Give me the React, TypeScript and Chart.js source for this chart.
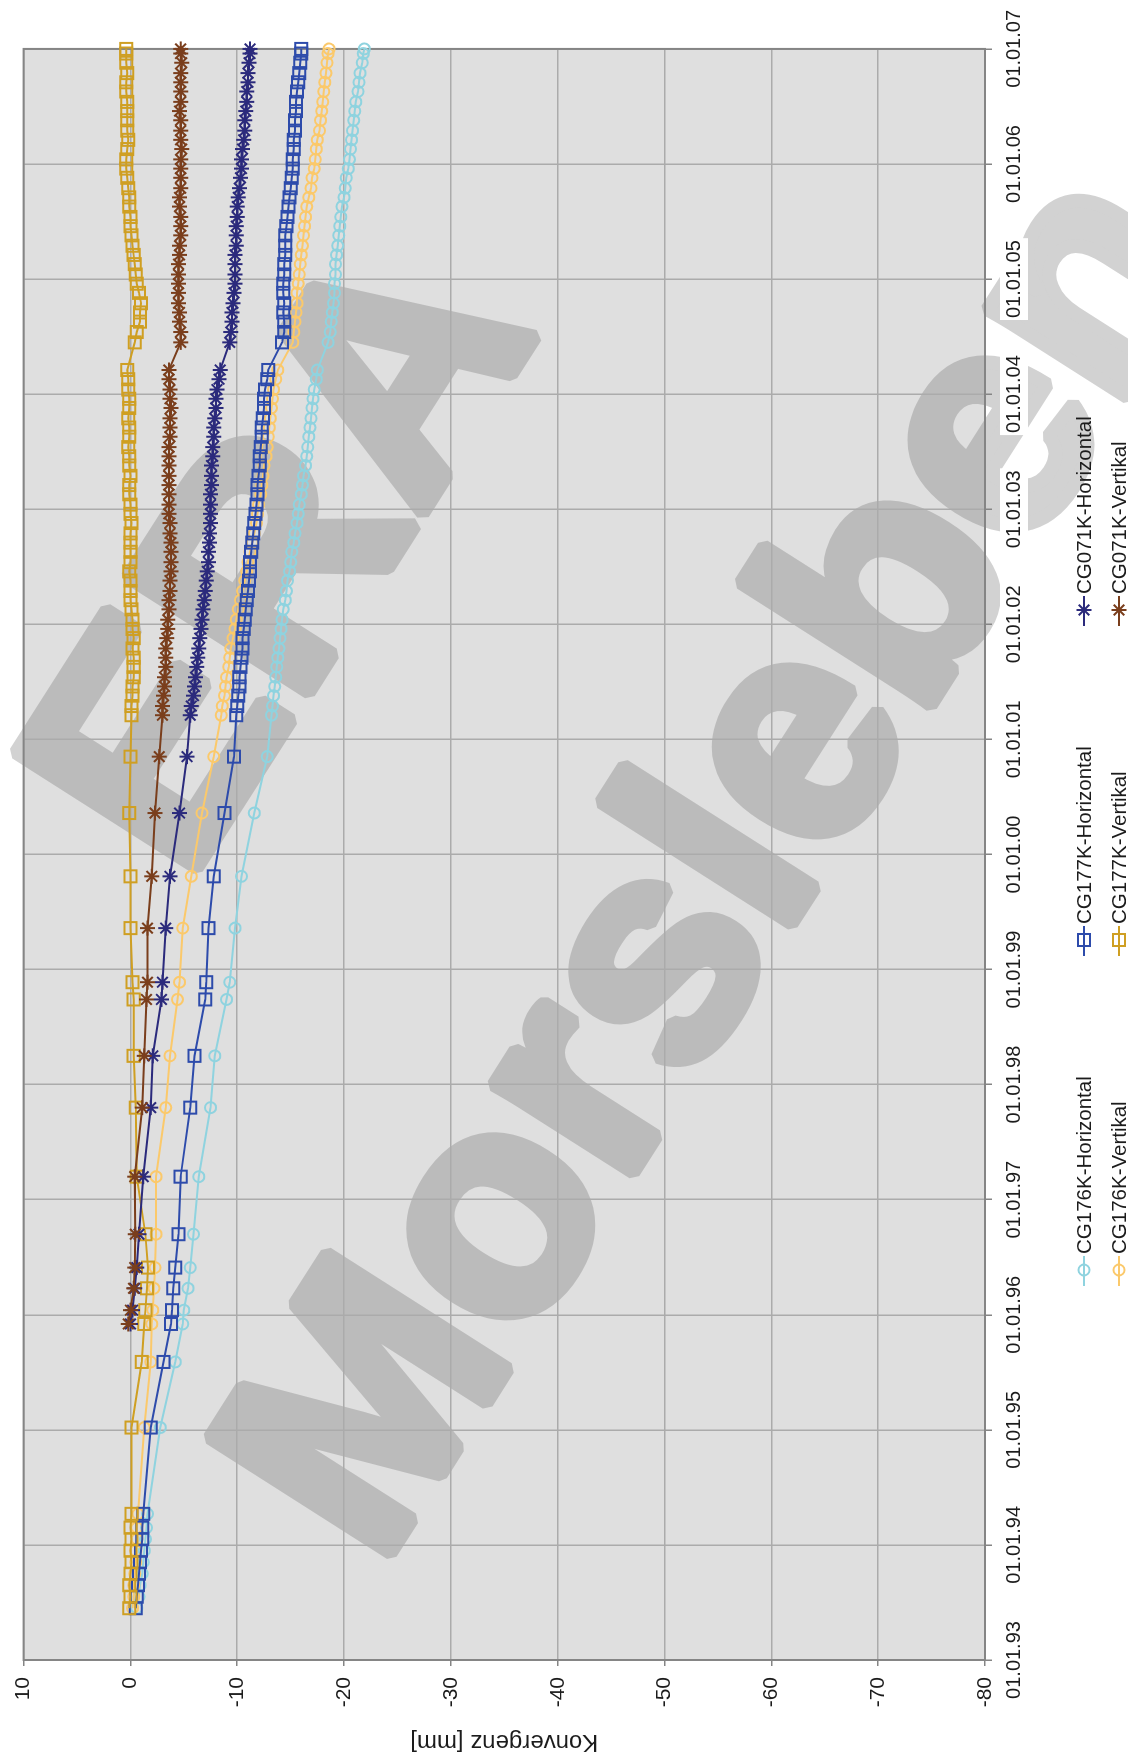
import React, { useEffect, useRef } from 'react';
import { Chart, registerables } from 'chart.js';

Chart.register(...registerables);

// ---------- data (decimal years; values in mm) ----------
const DATES: number[] = [
  1993.45, 1993.55, 1993.65, 1993.75, 1993.85, 1993.95, 1994.05, 1994.15, 1994.27,
  1995.02, 1995.59, 1995.92, 1996.04, 1996.23, 1996.41, 1996.70, 1997.20, 1997.80,
  1998.25, 1998.74, 1998.89, 1999.36, 1999.81, 2000.36, 2000.85,
  2001.21, 2001.29, 2001.38, 2001.46, 2001.54, 2001.63, 2001.71, 2001.79, 2001.88, 2001.96,
  2002.04, 2002.13, 2002.21, 2002.29, 2002.38, 2002.46, 2002.54, 2002.63, 2002.71, 2002.79, 2002.88, 2002.96,
  2003.04, 2003.13, 2003.21, 2003.29, 2003.38, 2003.46, 2003.54, 2003.63, 2003.71, 2003.79, 2003.88, 2003.96,
  2004.04, 2004.13, 2004.21,
  2004.45, 2004.54, 2004.63, 2004.71, 2004.79, 2004.88, 2004.96,
  2005.04, 2005.13, 2005.21, 2005.29, 2005.38, 2005.46, 2005.54, 2005.63, 2005.71, 2005.79, 2005.88, 2005.96,
  2006.04, 2006.13, 2006.21, 2006.29, 2006.38, 2006.46, 2006.54, 2006.63, 2006.71, 2006.79, 2006.88, 2006.96,
  2007.00,
];

const CG176K_H: (number | null)[] = [
  -0.6, -0.8, -0.9, -1.1, -1.2, -1.3, -1.4, -1.5, -1.6,
  -2.8, -4.2, -4.9, -5.0, -5.4, -5.6, -5.9, -6.4, -7.5,
  -7.9, -9.0, -9.3, -9.8, -10.4, -11.6, -12.8,
  -13.2, -13.3, -13.4, -13.5, -13.6, -13.7, -13.8, -13.9, -14.0, -14.1,
  -14.2, -14.3, -14.5, -14.6, -14.7, -14.9, -15.0, -15.1, -15.3, -15.4, -15.6, -15.7,
  -15.8, -16.0, -16.1, -16.2, -16.4, -16.5, -16.6, -16.7, -16.8, -16.9, -17.0, -17.1,
  -17.2, -17.4, -17.5,
  -18.5, -18.7, -18.8, -18.9, -19.0, -19.1, -19.1,
  -19.2, -19.2, -19.3, -19.4, -19.5, -19.6, -19.7, -19.8, -20.0, -20.1, -20.2, -20.4,
  -20.5, -20.6, -20.7, -20.8, -20.9, -21.0, -21.1, -21.3, -21.4, -21.5, -21.7, -21.8,
  -21.9,
];

const CG176K_V: (number | null)[] = [
  -0.2, -0.3, -0.3, -0.4, -0.5, -0.5, -0.6, -0.6, -0.7,
  -1.3, -1.9, -2.0, -2.1, -2.2, -2.3, -2.4, -2.4, -3.3,
  -3.7, -4.4, -4.6, -4.9, -5.7, -6.7, -7.8,
  -8.5, -8.6, -8.8, -8.9, -9.0, -9.2, -9.3, -9.4, -9.6, -9.8,
  -9.9, -10.1, -10.3, -10.5, -10.7, -10.9, -11.0, -11.2, -11.4, -11.6, -11.8, -11.9,
  -12.0, -12.2, -12.3, -12.4, -12.5, -12.7, -12.8, -12.9, -13.0, -13.1, -13.2, -13.3,
  -13.4, -13.6, -13.8,
  -15.2, -15.3, -15.4, -15.5, -15.6, -15.6, -15.7,
  -15.8, -15.9, -16.0, -16.1, -16.2, -16.3, -16.4, -16.5, -16.7, -16.9, -17.0, -17.2,
  -17.3, -17.4, -17.5, -17.7, -17.8, -17.9, -18.0, -18.1, -18.2, -18.3, -18.4, -18.5,
  -18.6,
];

const CG177K_H: (number | null)[] = [
  -0.5, -0.6, -0.7, -0.8, -0.9, -1.0, -1.1, -1.1, -1.2,
  -1.9, -3.1, -3.8, -3.9, -4.0, -4.2, -4.5, -4.7, -5.6,
  -6.0, -7.0, -7.1, -7.3, -7.8, -8.8, -9.7,
  -9.9, -10.0, -10.1, -10.2, -10.2, -10.3, -10.4, -10.5, -10.5, -10.6,
  -10.7, -10.8, -10.9, -11.0, -11.1, -11.2, -11.2, -11.3, -11.4, -11.5, -11.6, -11.7,
  -11.8, -11.9, -11.9, -12.0, -12.1, -12.1, -12.2, -12.3, -12.3, -12.4, -12.5, -12.5,
  -12.6, -12.8, -12.9,
  -14.2, -14.4, -14.4, -14.3, -14.4, -14.3, -14.3,
  -14.4, -14.4, -14.5, -14.5, -14.5, -14.6, -14.7, -14.8, -14.9, -15.0, -15.1, -15.2,
  -15.2, -15.3, -15.3, -15.4, -15.4, -15.5, -15.5, -15.6, -15.7, -15.8, -15.9, -16.0,
  -16.0,
];

const CG177K_V: (number | null)[] = [
  0.1, 0.0, 0.1, 0.0, -0.1, 0.0, -0.1, 0.0, -0.1,
  -0.1, -1.05, -1.3, -1.4, -1.55, -1.65, -1.4, -0.6, -0.5,
  -0.3, -0.3, -0.2, 0.0, 0.0, 0.1, 0.0,
  -0.1, -0.1, -0.2, -0.2, -0.3, -0.3, -0.3, -0.2, -0.3, -0.2,
  -0.2, -0.1, 0.0, 0.0, 0.0, 0.1, 0.0, 0.0, 0.0, 0.0, -0.1, 0.0,
  0.0, 0.1, 0.1, 0.0, 0.1, 0.1, 0.2, 0.1, 0.1, 0.2, 0.1, 0.1,
  0.2, 0.2, 0.3,
  -0.4, -0.6, -0.9, -0.9, -1.0, -0.8, -0.6,
  -0.5, -0.4, -0.3, -0.2, -0.1, 0.0, 0.0, 0.1, 0.1, 0.2, 0.3, 0.4,
  0.4, 0.3, 0.2, 0.3, 0.3, 0.3, 0.3, 0.4, 0.4, 0.3, 0.4, 0.4,
  0.4,
];

const CG071K_H: (number | null)[] = [
  null, null, null, null, null, null, null, null, null,
  null, null, 0.0, -0.2, -0.4, -0.6, -0.8, -1.2, -1.9,
  -2.1, -2.9, -3.0, -3.3, -3.7, -4.6, -5.3,
  -5.6, -5.7, -5.9, -6.0, -6.1, -6.2, -6.3, -6.4, -6.5, -6.6,
  -6.7, -6.8, -6.9, -7.0, -7.1, -7.2, -7.3, -7.3, -7.4, -7.4, -7.5, -7.5,
  -7.5, -7.5, -7.6, -7.6, -7.6, -7.7, -7.7, -7.8, -7.8, -7.9, -8.0, -8.0,
  -8.1, -8.3, -8.4,
  -9.3, -9.4, -9.5, -9.5, -9.6, -9.7, -9.8,
  -9.8, -9.8, -9.8, -9.9, -9.9, -9.9, -10.0, -10.0, -10.1, -10.2, -10.3, -10.4,
  -10.4, -10.5, -10.6, -10.7, -10.7, -10.8, -10.9, -10.9, -11.0, -11.0, -11.1, -11.2,
  -11.2,
];

const CG071K_V: (number | null)[] = [
  null, null, null, null, null, null, null, null, null,
  null, null, 0.2, 0.0, -0.3, -0.4, -0.45, -0.4, -1.1,
  -1.3, -1.5, -1.6, -1.6, -2.0, -2.3, -2.7,
  -3.0, -3.0, -3.1, -3.2, -3.2, -3.3, -3.3, -3.3, -3.4, -3.5,
  -3.5, -3.6, -3.6, -3.7, -3.7, -3.8, -3.8, -3.8, -3.8, -3.7, -3.7, -3.6,
  -3.6, -3.6, -3.6, -3.6, -3.6, -3.6, -3.6, -3.7, -3.7, -3.7, -3.8, -3.7,
  -3.7, -3.6, -3.6,
  -4.7, -4.7, -4.6, -4.6, -4.5, -4.5, -4.5,
  -4.5, -4.5, -4.6, -4.6, -4.7, -4.7, -4.7, -4.6, -4.6, -4.7, -4.7, -4.7,
  -4.7, -4.8, -4.7, -4.7, -4.7, -4.6, -4.7, -4.7, -4.7, -4.7, -4.8, -4.7,
  -4.7,
];

const SERIES_LABELS = [
  'CG176K-Horizontal', 'CG176K-Vertikal',
  'CG177K-Horizontal', 'CG177K-Vertikal',
  'CG071K-Horizontal', 'CG071K-Vertikal',
];
const SERIES_VALUES = [CG176K_H, CG176K_V, CG177K_H, CG177K_V, CG071K_H, CG071K_V];

const Y_MIN = -80;
const Y_MAX = 10;
const X_YEAR_MIN = 1993;
const X_YEAR_MAX = 2007;
const Y_TITLE = 'Konvergenz [mm]';
const WATERMARK_LINES = ['ERA', 'Morsleben'];

// ---------- styles ----------
const FONT = '"Liberation Sans", Arial, Helvetica, sans-serif';
const TEXT = '#1c1c1c';
const PLOT_BG = '#dfdfdf';
const GRID = '#ababab';
const BORDER = '#858585';
const COLORS = ['#8fd3df', '#fbc96b', '#2d4bab', '#cf9f22', '#2b2a7c', '#7a3e1c'];
const STYLES = ['circle', 'circle', 'rect', 'rect', 'star', 'star'];
const RADII = [5.5, 5.5, 8.5, 8.5, 7.5, 7.5];

function drawMarker(ctx: CanvasRenderingContext2D, style: string, x: number, y: number, r: number) {
  ctx.beginPath();
  if (style === 'circle') {
    ctx.arc(x, y, r, 0, Math.PI * 2);
  } else if (style === 'rect') {
    const s = r * Math.SQRT1_2;
    ctx.rect(x - s, y - s, 2 * s, 2 * s);
  } else {
    const d = r * Math.SQRT1_2;
    ctx.moveTo(x - d, y - d); ctx.lineTo(x + d, y + d);
    ctx.moveTo(x - d, y + d); ctx.lineTo(x + d, y - d);
    ctx.moveTo(x, y - r); ctx.lineTo(x, y + r);
    ctx.moveTo(x - r, y); ctx.lineTo(x + r, y);
  }
  ctx.stroke();
}

const backgroundPlugin = {
  id: 'pageBackground',
  beforeDraw(chart: any) {
    const { ctx, chartArea: a, width, height } = chart;
    ctx.save();
    ctx.fillStyle = '#ffffff';
    ctx.fillRect(0, 0, width, height);
    ctx.fillStyle = PLOT_BG;
    ctx.fillRect(a.left, a.top, a.right - a.left, a.bottom - a.top);

    // page watermark, drawn opaque off-screen then blended
    const dpr = chart.currentDevicePixelRatio || 1;
    const off = document.createElement('canvas');
    off.width = Math.round(width * dpr);
    off.height = Math.round(height * dpr);
    const oc = off.getContext('2d')!;
    oc.scale(dpr, dpr);
    oc.fillStyle = '#6c6c6c';
    oc.strokeStyle = '#6c6c6c';
    oc.lineWidth = 14;
    oc.lineJoin = 'bevel';
    oc.font = `bold 312px ${FONT}`;
    oc.textAlign = 'center';
    oc.textBaseline = 'middle';
    const ang = (32.5 * Math.PI) / 180;
    const centers: [number, number][] = [[1205, 280], [900, 716]];
    WATERMARK_LINES.forEach((t, i) => {
      oc.save();
      oc.translate(centers[i][0], centers[i][1]);
      oc.rotate(ang);
      oc.fillText(t, 0, 12);
      oc.strokeText(t, 0, 12);
      oc.restore();
    });
    ctx.globalAlpha = 0.3;
    ctx.drawImage(off, 0, 0, width, height);
    ctx.restore();
  },
  beforeDatasetsDraw(chart: any) {
    const { ctx, chartArea: a } = chart;
    ctx.save();
    ctx.strokeStyle = BORDER;
    ctx.lineWidth = 2;
    ctx.strokeRect(a.left, a.top, a.right - a.left, a.bottom - a.top);
    ctx.restore();
  },
};

const legendPlugin = {
  id: 'gridLegend',
  afterDraw(chart: any) {
    const ctx: CanvasRenderingContext2D = chart.ctx;
    chart.data.datasets.forEach((ds: any, i: number) => {
      const col = Math.floor(i / 2);
      const row = i % 2;
      const mx = 490 + col * 330;
      const my = row === 0 ? 1084 : 1119;
      ctx.save();
      ctx.strokeStyle = ds.borderColor;
      ctx.lineWidth = 2;
      ctx.beginPath();
      ctx.moveTo(mx - 16, my);
      ctx.lineTo(mx + 14, my);
      ctx.stroke();
      drawMarker(ctx, ds.pointStyle, mx, my, ds.pointRadius);
      ctx.fillStyle = TEXT;
      ctx.font = `20.5px ${FONT}`;
      ctx.textAlign = 'left';
      ctx.textBaseline = 'middle';
      ctx.fillText(ds.label, mx + 16, my + 1);
      ctx.restore();
    });
  },
};

export default function App() {
  const ref = useRef<HTMLCanvasElement | null>(null);

  useEffect(() => {
    if (!ref.current) return;
    Chart.defaults.font.family = FONT;
    const datasets = SERIES_LABELS.map((label, i) => ({
      label,
      data: DATES.map((d, k) => ({ x: d, y: SERIES_VALUES[i][k] })),
      borderColor: COLORS[i],
      backgroundColor: 'rgba(0,0,0,0)',
      pointBorderColor: COLORS[i],
      pointBackgroundColor: 'rgba(0,0,0,0)',
      pointStyle: STYLES[i],
      pointRadius: RADII[i],
      pointBorderWidth: 2,
      borderWidth: 2,
      tension: 0,
      order: 6 - i,
      clip: false as any,
    }));

    const chart = new Chart(ref.current, {
      type: 'line',
      data: { datasets },
      plugins: [backgroundPlugin, legendPlugin],
      options: {
        animation: false,
        responsive: false,
        events: [],
        layout: { padding: { top: 20, right: 40, left: 0, bottom: 0 } },
        plugins: { legend: { display: false }, tooltip: { enabled: false } },
        scales: {
          x: {
            type: 'linear',
            min: X_YEAR_MIN,
            max: X_YEAR_MAX,
            afterFit: (s: any) => { s.height = 143; },
            ticks: {
              stepSize: 1,
              autoSkip: false,
              maxRotation: 0,
              padding: 10,
              color: TEXT,
              font: { size: 20 },
              showLabelBackdrop: true,
              backdropColor: '#ffffff',
              backdropPadding: 2,
              callback: (v: any) => '01.01.' + String(Math.round(Number(v)) % 100).padStart(2, '0'),
            },
            grid: { color: GRID, lineWidth: 1.5, tickLength: 7, tickColor: BORDER },
            border: { display: false },
          },
          y: {
            min: Y_MIN,
            max: Y_MAX,
            afterFit: (s: any) => { s.width = 100; },
            ticks: {
              stepSize: 10,
              padding: 11,
              color: TEXT,
              font: { size: 21 },
              showLabelBackdrop: true,
              backdropColor: '#ffffff',
              backdropPadding: 2,
            },
            title: {
              display: true,
              text: Y_TITLE,
              color: TEXT,
              font: { size: 24 },
              padding: { top: 4, bottom: 0 },
            },
            grid: { color: GRID, lineWidth: 1.5, tickLength: 6, tickColor: BORDER },
            border: { display: false },
          },
        },
      } as any,
    });
    return () => chart.destroy();
  }, []);

  return (
    <div style={{ position: 'absolute', left: 0, top: 0, width: 1128, height: 1760, overflow: 'hidden', background: '#ffffff' }}>
      <div
        style={{
          position: 'absolute',
          left: 0,
          top: 0,
          width: 1760,
          height: 1128,
          transformOrigin: '0 0',
          transform: 'translateY(1760px) rotate(-90deg)',
        }}
      >
        <canvas ref={ref} width={1760} height={1128} style={{ display: 'block', width: 1760, height: 1128 }} />
      </div>
    </div>
  );
}
